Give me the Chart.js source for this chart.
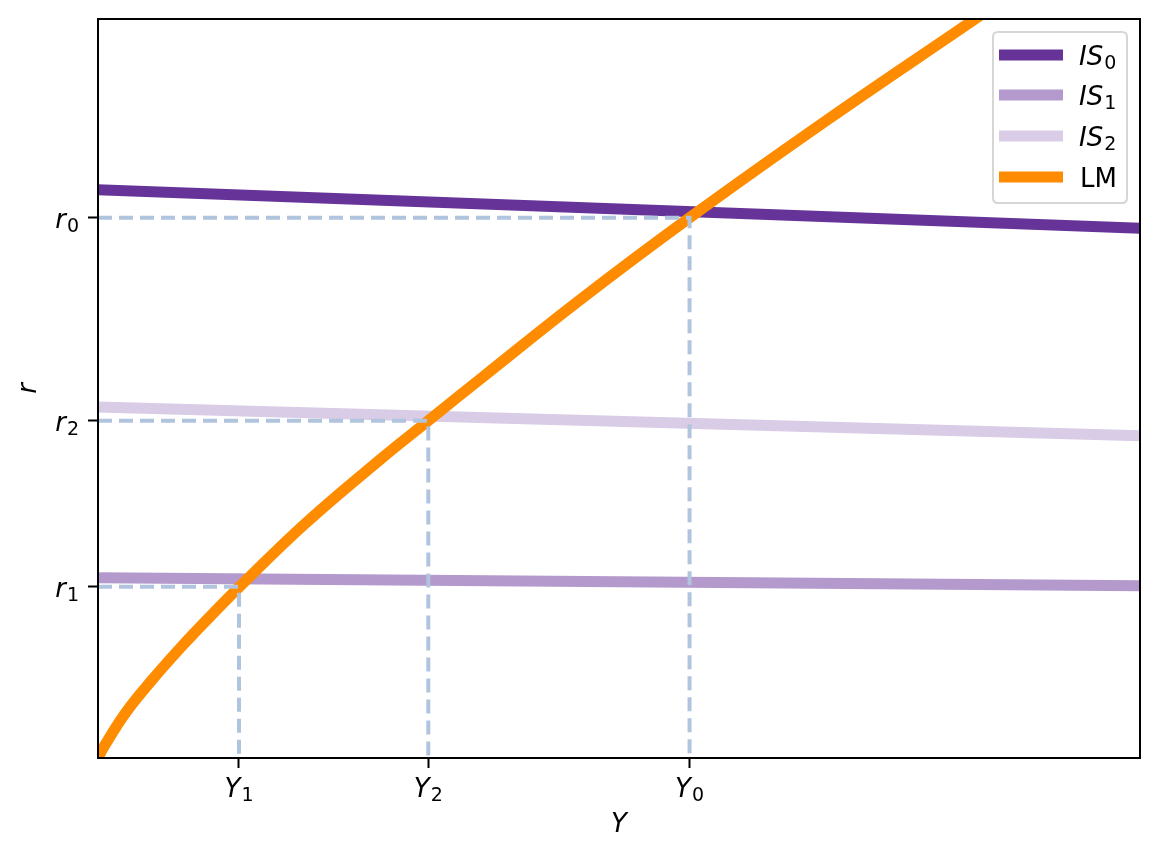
<!DOCTYPE html>
<html><head><meta charset="utf-8">
<script src="https://cdn.jsdelivr.net/npm/chart.js@4.4.1/dist/chart.umd.min.js"></script>
<style>html,body{margin:0;padding:0;background:#fff}canvas{display:block}</style>
</head><body>
<canvas id="c" width="1160" height="860"></canvas>
<script>
// ---- data ----
const xTickLabels = ['Y₁', 'Y₂', 'Y₀'];
const xTickValues = [1.353, 3.170, 5.677];
const yTickLabels = ['r₁', 'r₂', 'r₀'];
const yTickValues = [2.318, 4.564, 7.311];

const seriesNames = ['IS₀', 'IS₁', 'IS₂', 'LM'];
const isY  = [0, 10];
const is0R = [7.69, 7.17];
const is1R = [2.44, 2.33];
const is2R = [4.75, 4.36];
const lmY = [0, 0.064, 0.269, 0.515, 0.784, 1.059, 1.353, 1.987, 2.726, 3.167, 3.714, 4.626, 5.677, 7.025, 8.417, 8.95];
const lmR = [0, 0.17, 0.62, 1.05, 1.48, 1.89, 2.31, 3.17, 4.06, 4.56, 5.18, 6.20, 7.31, 8.66, 10.0, 10.52];
const axisTitleX = 'Y';
const axisTitleY = 'r';

const colors = ['#663399', '#b399cc', '#d9cce6', '#ff8c00'];
const guideColor = '#b0c4de';

const pts = (xs, ys) => xs.map((x, i) => ({x: x, y: ys[i]}));

const curveDatasets = [
  {label: seriesNames[0], data: pts(isY, is0R), borderColor: colors[0], order: 4},
  {label: seriesNames[1], data: pts(isY, is1R), borderColor: colors[1], order: 3},
  {label: seriesNames[2], data: pts(isY, is2R), borderColor: colors[2], order: 2},
  {label: seriesNames[3], data: pts(lmY, lmR), borderColor: colors[3], order: 1, tension: 0.4}
].map(d => Object.assign({borderWidth: 11, pointRadius: 0, tension: 0, clip: 0, fill: false}, d));

const guideDatasets = xTickValues.map((xv, i) => ({
  label: 'guide' + i,
  data: [{x: 0, y: yTickValues[i]}, {x: xv, y: yTickValues[i]}, {x: xv, y: 0}],
  borderColor: guideColor, borderWidth: 4, borderDash: [14, 7], pointRadius: 0,
  tension: 0, clip: 0, fill: false, order: 0
}));

// draw "X₀"-style text mathtext-like: italic base, upright smaller subscript
function splitSub(s) {
  const m = s.match(/^(.*?)([\u2080-\u2089])$/);
  return m ? [m[1], String.fromCharCode(m[2].charCodeAt(0) - 0x2080 + 48)] : [s, ''];
}
function mathWidth(ctx, s, italic) {
  const [b, sub] = splitSub(s);
  ctx.font = (italic ? 'italic ' : '') + '26px "DejaVu Sans"';
  let w = ctx.measureText(b).width;
  if (sub) { ctx.font = '19px "DejaVu Sans"'; w += 1 + ctx.measureText(sub).width; }
  return w;
}
function drawMath(ctx, s, x, baseline, italic) {
  const [b, sub] = splitSub(s);
  ctx.textAlign = 'left'; ctx.textBaseline = 'alphabetic'; ctx.fillStyle = '#000';
  ctx.font = (italic ? 'italic ' : '') + '26px "DejaVu Sans"';
  ctx.fillText(b, x, baseline);
  if (sub) {
    const w = ctx.measureText(b).width;
    ctx.font = '19px "DejaVu Sans"';
    ctx.fillText(sub, x + w + 1, baseline + 4);
  }
}

const tickLabelPlugin = {
  id: 'mathTicks',
  afterDraw(chart) {
    const ctx = chart.ctx, xs = chart.scales.x, ys = chart.scales.y;
    ctx.save();
    xTickValues.forEach((v, i) => {
      const px = xs.getPixelForValue(v);
      const w = mathWidth(ctx, xTickLabels[i], true);
      drawMath(ctx, xTickLabels[i], px - w / 2, xs.top + 39, true);
    });
    yTickValues.forEach((v, i) => {
      const py = ys.getPixelForValue(v);
      const w = mathWidth(ctx, yTickLabels[i], true);
      drawMath(ctx, yTickLabels[i], ys.right - 19 - w, py + 10.6, true);
    });
    ctx.restore();
  }
};

const spinesPlugin = {
  id: 'spines',
  afterDatasetsDraw(chart) {
    const {ctx, chartArea: a} = chart;
    ctx.save();
    ctx.strokeStyle = '#000'; ctx.lineWidth = 2;
    ctx.strokeRect(a.left, a.top, a.right - a.left, a.bottom - a.top);
    ctx.restore();
  }
};

const legendPlugin = {
  id: 'mplLegend',
  afterDraw(chart) {
    const ctx = chart.ctx;
    ctx.save();
    const bx = 993, by = 32, bw = 134, bh = 171, r = 5;
    ctx.beginPath();
    ctx.moveTo(bx + r, by); ctx.lineTo(bx + bw - r, by); ctx.quadraticCurveTo(bx + bw, by, bx + bw, by + r);
    ctx.lineTo(bx + bw, by + bh - r); ctx.quadraticCurveTo(bx + bw, by + bh, bx + bw - r, by + bh);
    ctx.lineTo(bx + r, by + bh); ctx.quadraticCurveTo(bx, by + bh, bx, by + bh - r);
    ctx.lineTo(bx, by + r); ctx.quadraticCurveTo(bx, by, bx + r, by);
    ctx.closePath();
    ctx.fillStyle = 'rgba(255,255,255,0.8)'; ctx.fill();
    ctx.strokeStyle = '#d6d6d6'; ctx.lineWidth = 2; ctx.stroke();
    const rows = [55, 95, 136, 177];
    seriesNames.forEach((name, i) => {
      const ds = chart.data.datasets[i];
      const y = rows[i];
      ctx.strokeStyle = ds.borderColor; ctx.lineWidth = ds.borderWidth; ctx.lineCap = 'butt';
      ctx.beginPath(); ctx.moveTo(999, y); ctx.lineTo(1063, y); ctx.stroke();
      const hasSub = splitSub(name)[1] !== '';
      drawMath(ctx, name, hasSub ? 1079 : 1080, y + 9.5, hasSub);
    });
    ctx.restore();
  }
};

Chart.defaults.font.family = '"DejaVu Sans"';
Chart.defaults.color = '#000';

const fixPad = s => { s.paddingTop = 0; s.paddingBottom = 0; s.paddingLeft = 0; s.paddingRight = 0; };

new Chart(document.getElementById('c'), {
  type: 'line',
  data: {datasets: curveDatasets.concat(guideDatasets)},
  options: {
    responsive: false, animation: false, devicePixelRatio: 1,
    layout: {padding: {left: 0, right: 20, top: 19, bottom: 0}},
    plugins: {legend: {display: false}, tooltip: {enabled: false}},
    scales: {
      x: {
        type: 'linear', min: 0, max: 10,
        afterBuildTicks: s => { s.ticks = xTickValues.map(v => ({value: v})); },
        afterFit: s => { s.height = 102; fixPad(s); },
        ticks: {display: false, callback: (v, i) => xTickLabels[i], autoSkip: false, maxRotation: 0},
        grid: {display: true, drawOnChartArea: false, drawTicks: true, tickLength: 10, tickWidth: 2, tickColor: '#000'},
        border: {display: true, color: '#000', width: 2},
        title: {display: true, text: axisTitleX, font: {size: 26, style: 'italic'}, color: '#000', padding: {top: 0, bottom: 19}}
      },
      y: {
        type: 'linear', min: 0, max: 10,
        afterBuildTicks: s => { s.ticks = yTickValues.map(v => ({value: v})); },
        afterFit: s => { s.width = 98; fixPad(s); },
        ticks: {display: false, callback: (v, i) => yTickLabels[i], autoSkip: false},
        grid: {display: true, drawOnChartArea: false, drawTicks: true, tickLength: 10, tickWidth: 2, tickColor: '#000'},
        border: {display: true, color: '#000', width: 2},
        title: {display: true, text: axisTitleY, font: {size: 26, style: 'italic'}, color: '#000', padding: {top: 14, bottom: 0}}
      }
    }
  },
  plugins: [spinesPlugin, tickLabelPlugin, legendPlugin]
});
</script>
</body></html>
